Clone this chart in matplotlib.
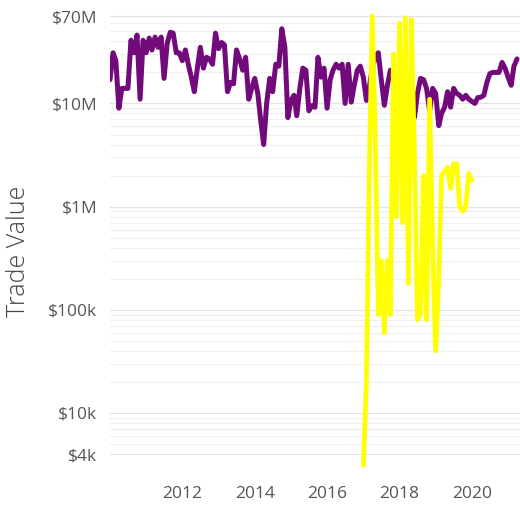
import numpy as np
import pandas as pd
import matplotlib
matplotlib.use('Agg')
from matplotlib import pyplot as plt
from matplotlib.ticker import FixedLocator, LogLocator, NullFormatter

plt.rcParams['font.family'] = ['Open Sans', 'DejaVu Sans']

# monthly trade value, millions of dollars
purple_start = '2010-01-01'
purple_vals = [17, 31, 26, 9, 14, 14, 14, 41, 31, 46,
               11, 41, 31, 43, 33, 44, 35, 44, 17.5, 38,
               49, 48, 31, 31, 26, 33, 24, 18, 13, 22,
               35, 22, 28, 27, 24, 48, 34, 39, 37, 13,
               16, 15.5, 33, 27, 21, 28, 11, 14, 17.5, 12.5,
               7, 4, 10, 17.5, 13, 24, 23, 53, 35, 7.3,
               10.7, 12, 7.6, 14, 22, 21, 8.5, 9.5, 9.2, 28,
               18, 22, 9, 17, 21, 24, 22, 24, 10, 24,
               10.3, 15, 21, 23, 18, 10.7, 14, 22, 28, 31,
               17, 9.6, 15, 21, 17, 6.8, 10, 14, 9, 8,
               7.5, 7.3, 12.5, 17.5, 17, 14, 8.5, 14, 12.5, 6.1,
               8, 9.2, 13, 9.2, 14, 12.5, 12, 11, 12, 11,
               10.5, 10, 11.4, 11.5, 12, 16, 19.5, 20, 20, 20,
               25, 22, 18, 15, 23, 27]

yellow_start = '2017-01-01'
yellow_vals = [0.003, 0.02, 2, 70, 5, 0.09, 0.3, 0.06, 0.3, 0.09,
               30, 0.8, 60, 0.7, 68, 0.18, 65, 3, 0.08, 0.09,
               2, 0.08, 11, 0.4, 0.04, 0.2, 2, 2.2, 2.4, 1.5,
               2.6, 2.6, 1.0, 0.9, 1.0, 2.1, 1.8]

ytick_vals = [70e6, 10e6, 1e6, 1e5, 1e4, 4e3]
ytick_labels = ['$70M', '$10M', '$1M', '$100k', '$10k', '$4k']
xtick_years = [2012, 2014, 2016, 2018, 2020]

purple_dates = pd.date_range(purple_start, periods=len(purple_vals), freq='MS')
yellow_dates = pd.date_range(yellow_start, periods=len(yellow_vals), freq='MS')

fig = plt.figure(figsize=(5.2, 5.07), dpi=100)
ax = fig.add_axes([0.2115, 0.079, 0.7885, 0.895])

ax.plot(purple_dates, np.array(purple_vals) * 1e6, color='#720a7c', lw=3.6,
        solid_joinstyle='round', solid_capstyle='round', zorder=3)
ax.plot(yellow_dates, np.array(yellow_vals) * 1e6, color='#ffff00', lw=3.4,
        solid_joinstyle='round', solid_capstyle='round', zorder=4)

ax.set_yscale('log')
ax.set_ylim(3e3, 75e6)
ax.set_xlim(pd.Timestamp('2010-01-01'), pd.Timestamp('2021-05-01'))

ax.yaxis.set_major_locator(FixedLocator(ytick_vals))
ax.set_yticklabels(ytick_labels)
ax.yaxis.set_minor_locator(LogLocator(base=10, subs=np.arange(2, 10)))
ax.yaxis.set_minor_formatter(NullFormatter())

ax.set_xticks([pd.Timestamp('%d-01-01' % y) for y in xtick_years])
ax.set_xticklabels([str(y) for y in xtick_years])

ax.grid(True, which='major', axis='y', color='#e3e3e3', lw=0.9, zorder=0)
ax.grid(True, which='minor', axis='y', color='#efefef', lw=0.8, zorder=0)
ax.grid(False, axis='x')
for s in ax.spines.values():
    s.set_visible(False)

ax.tick_params(axis='both', which='both', length=0, labelsize=12.5, colors='#555555')
ax.tick_params(axis='y', pad=9)
ax.tick_params(axis='x', pad=14)

fig.text(0.035, 0.505, 'Trade Value', rotation=90, ha='center', va='center',
         fontsize=18, color='#444444', fontweight='light')

fig.savefig('out.png', dpi=100)
